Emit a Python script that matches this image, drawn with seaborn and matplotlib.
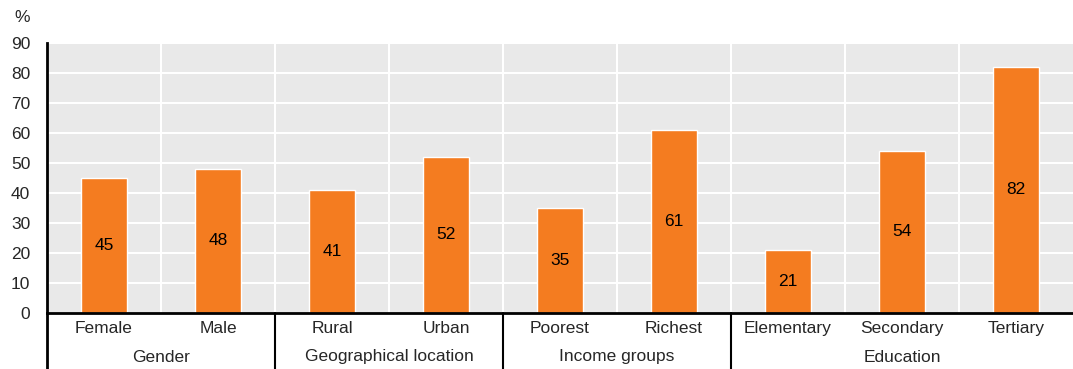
import matplotlib
matplotlib.use("Agg")
import matplotlib.pyplot as plt
import matplotlib.transforms as mtransforms
from matplotlib import font_manager
import seaborn as sns
import pandas as pd

categories = ["Female", "Male", "Rural", "Urban", "Poorest", "Richest",
              "Elementary", "Secondary", "Tertiary"]
values = [45, 48, 41, 52, 35, 61, 21, 54, 82]
groups = ["Gender", "Geographical location", "Income groups", "Education"]
group_sizes = [2, 2, 2, 3]
yticks = [0, 10, 20, 30, 40, 50, 60, 70, 80, 90]

sns.set_theme(style="white")
names = {f.name for f in font_manager.fontManager.ttflist}
fam = [f for f in ["Liberation Sans Narrow", "Liberation Sans", "DejaVu Sans"] if f in names]
plt.rcParams["font.family"] = fam
FS = 12.5

df = pd.DataFrame({"cat": categories, "val": values})

fig = plt.figure(figsize=(10.73, 3.69), dpi=100)
ax = fig.add_axes([47 / 1073, 1 - 313 / 369, 1 - 47 / 1073, 270 / 369])
ax.set_facecolor("#e9e9e9")

sns.barplot(data=df, x="cat", y="val", color="#f47c20", width=0.4,
            saturation=1, ax=ax, zorder=3)

ax.set_ylim(0, 90)
ax.set_xlim(-0.5, len(categories) - 0.5)
ax.set_yticks(yticks)
ax.set_yticklabels([str(t) for t in yticks], fontsize=FS)
ax.tick_params(axis="y", direction="out", length=4, width=1.5, color="black", pad=8)
ax.tick_params(axis="x", length=0, pad=6, labelsize=FS)
ax.set_xlabel("")
ax.set_ylabel("")

# gridlines
for t in yticks[1:]:
    ax.axhline(t, color="white", lw=1.5, zorder=1)
for i in range(len(categories) - 1):
    ax.axvline(i + 0.5, color="white", lw=1.5, zorder=1)

for s in ["top", "right"]:
    ax.spines[s].set_visible(False)
for s in ["left", "bottom"]:
    ax.spines[s].set_color("black")
    ax.spines[s].set_linewidth(2)
    ax.spines[s].set_zorder(5)

# value labels in middle of bars
for i, v in enumerate(values):
    ax.text(i, v / 2, str(v), ha="center", va="center", fontsize=FS, color="black", zorder=6)

# group separators and labels
trans = mtransforms.blended_transform_factory(ax.transData, ax.transAxes)
bottom = -56 / 270
ax.plot([-0.5, -0.5], [0, bottom], transform=trans, color="black", lw=2, clip_on=False)
start = 0
for g, n in zip(groups, group_sizes):
    center = start + (n - 1) / 2
    ax.text(center, -44 / 270, g, transform=trans, ha="center", va="center", fontsize=FS)
    end = start + n
    if end < len(categories):
        ax.plot([end - 0.5, end - 0.5], [0, bottom], transform=trans,
                color="black", lw=1.5, clip_on=False)
    start = end

fig.text(22 / 1073, 1 - 18 / 369, "%", ha="center", va="center", fontsize=FS)

fig.savefig("out.png", dpi=100)
